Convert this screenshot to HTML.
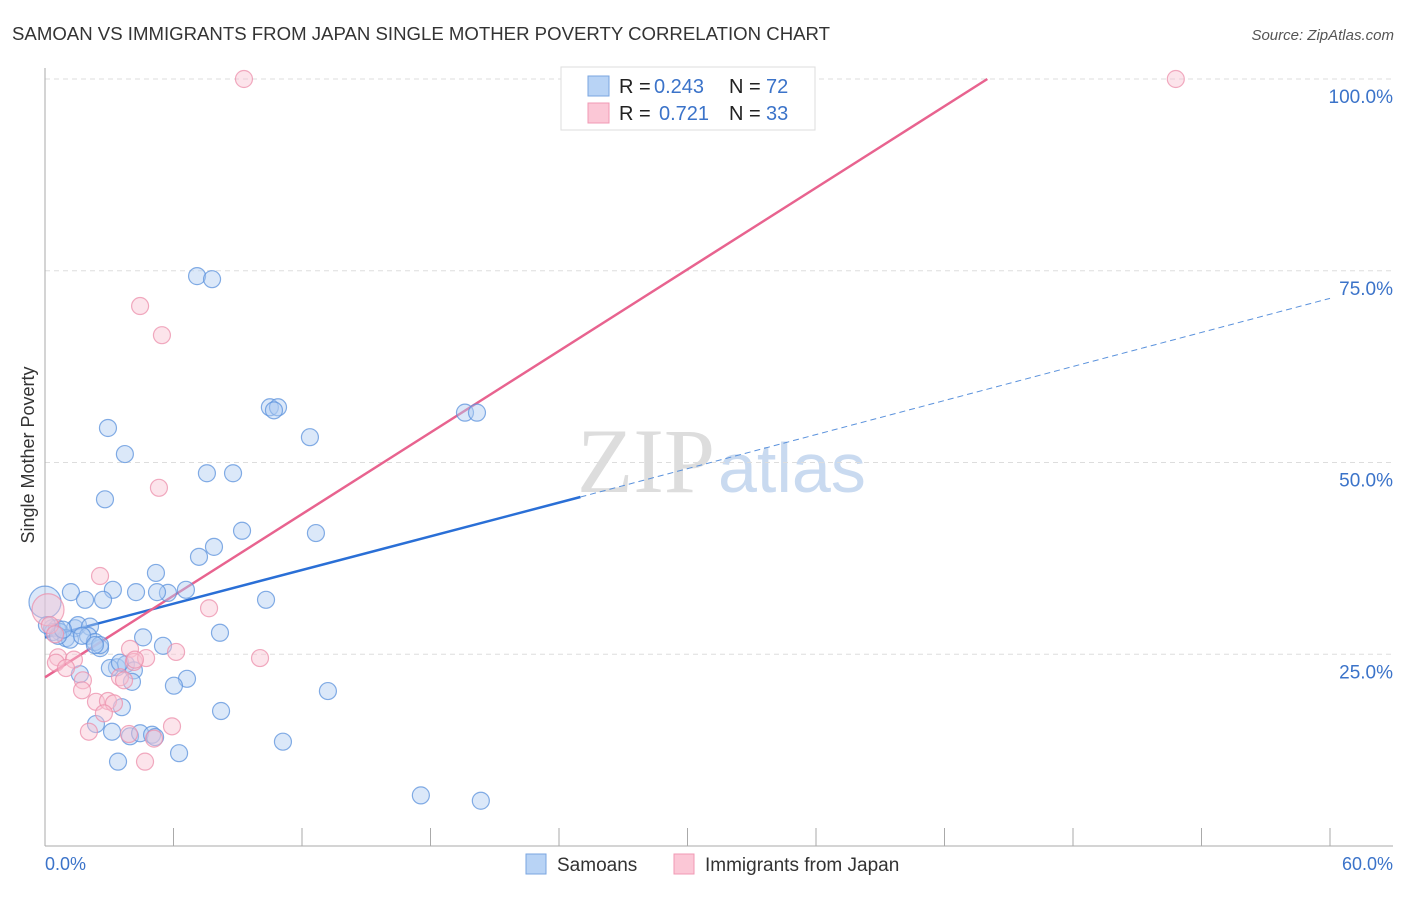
<!DOCTYPE html>
<html><head><meta charset="utf-8"><style>
body{margin:0;background:#fff;font-family:"Liberation Sans",sans-serif;}
svg text{font-family:"Liberation Sans",sans-serif;}
</style></head><body>
<svg id="chart" width="1406" height="892">
<text x="12" y="40" font-size="18" fill="#333" textLength="818" lengthAdjust="spacingAndGlyphs">SAMOAN VS IMMIGRANTS FROM JAPAN SINGLE MOTHER POVERTY CORRELATION CHART</text>
<text x="1394" y="40" font-size="15" fill="#555" font-style="italic" text-anchor="end">Source: ZipAtlas.com</text>
<text x="715" y="492" font-size="92" fill="#ddd" text-anchor="end" style="font-family:'Liberation Serif',serif">ZIP</text>
<text x="718" y="492" font-size="70" fill="#c9daf0">atlas</text>
<g id="grid"></g><g id="axes"></g><g id="lines"></g><g id="pts"></g>
<text transform="translate(34,455) rotate(-90)" font-size="18" fill="#333" text-anchor="middle">Single Mother Poverty</text>
<text x="45" y="870" font-size="18" fill="#3b73c9">0.0%</text>
<text x="1393" y="870" font-size="18" fill="#3b73c9" text-anchor="end">60.0%</text>
<g>
<rect x="561" y="67" width="254" height="63" fill="#fff" stroke="#ddd"/>
<rect x="588" y="76" width="21" height="20" fill="#b8d3f5" stroke="#7aa6e0"/>
<rect x="588" y="103" width="21" height="20" fill="#fbc7d6" stroke="#f09ab4"/>
<text x="619" y="93" font-size="20" fill="#222">R =</text>
<text x="654" y="93" font-size="20" fill="#3b73c9">0.243</text>
<text x="729" y="93" font-size="20" fill="#222">N =</text>
<text x="766" y="93" font-size="20" fill="#3b73c9">72</text>
<text x="619" y="120" font-size="20" fill="#222">R =</text>
<text x="659" y="120" font-size="20" fill="#3b73c9">0.721</text>
<text x="729" y="120" font-size="20" fill="#222">N =</text>
<text x="766" y="120" font-size="20" fill="#3b73c9">33</text>
</g>
<g>
<rect x="526" y="854" width="20" height="20" fill="#b8d3f5" stroke="#7aa6e0"/>
<text x="557" y="871" font-size="19" fill="#333">Samoans</text>
<rect x="674" y="854" width="20" height="20" fill="#fbc7d6" stroke="#f09ab4"/>
<text x="705" y="871" font-size="19" fill="#333">Immigrants from Japan</text>
</g>
</svg>
<script>
const yTicks=[25,50,75,100];
const yTickLabels=["25.0%","50.0%","75.0%","100.0%"];
const xTicks=[0,6,12,18,24,30,36,42,48,54,60];
const blueX=[7.10,7.80,2.94,3.73,10.50,10.88,10.69,12.37,19.61,20.17,7.56,8.78,2.80,9.20,12.65,7.89,7.19,5.18,1.21,3.17,4.25,5.74,6.58,1.87,2.71,5.23,10.32,8.17,4.58,5.51,2.57,0.33,0.56,0.70,1.40,1.54,2.10,2.01,0.98,2.33,1.17,1.73,2.57,2.33,3.36,3.78,4.15,4.06,6.63,6.02,1.63,13.21,8.22,3.59,2.38,3.13,3.97,4.44,5.00,5.14,11.11,6.26,3.41,17.55,20.35,0,0.37,0.61,0.09,0.84,3.03,3.50];
const blueY=[74.3,73.9,54.5,51.1,57.2,57.2,56.8,53.3,56.5,56.5,48.6,48.6,45.2,41.1,40.8,39.0,37.7,35.6,33.1,33.4,33.1,33.0,33.4,32.1,32.1,33.1,32.1,27.8,27.2,26.1,25.8,28.4,28.4,27.9,28.4,28.8,28.6,27.4,27.1,26.6,26.9,27.4,26.2,26.2,23.3,23.7,22.9,21.4,21.8,20.9,22.4,20.2,17.6,18.1,15.9,14.9,14.3,14.7,14.5,14.2,13.6,12.1,11.0,6.6,5.9,31.8,27.9,27.4,28.8,28.2,23.2,23.9];
const blueBig=[65];
const pinkX=[9.29,52.8,4.44,5.46,5.32,2.57,7.66,0.14,3.97,6.12,10.04,0.61,1.35,0.51,0.98,3.50,3.69,1.77,1.73,2.38,2.94,3.22,2.75,5.93,2.05,3.92,5.09,4.67,4.15,4.72,0.23,0.47,4.20];
const pinkY=[100,100,70.4,66.6,46.7,35.2,31.0,30.8,25.7,25.3,24.5,24.6,24.3,23.9,23.2,22.0,21.6,21.6,20.3,18.8,18.9,18.6,17.3,15.6,14.9,14.6,14.0,11.0,24.0,24.5,28.8,27.6,24.3];
const pinkBig=[7];
const blueTrend=[0,27.2,25,45.5,60,71.4];
const pinkTrend=[0,22.0,44.0,100];
const X0=45,X1=1330,Y0=846,Y100=79;
const sx=v=>X0+(X1-X0)*v/60, sy=v=>Y0-(Y0-Y100)*v/100;
const NS="http://www.w3.org/2000/svg";
function mk(tag,parent,attrs){const e=document.createElementNS(NS,tag);for(const k in attrs)e.setAttribute(k,attrs[k]);document.getElementById(parent).appendChild(e);return e;}
yTicks.forEach((t,i)=>{
 let l=mk('line','grid',{x1:X0,x2:1393,y1:sy(t),y2:sy(t),stroke:'#ddd','stroke-dasharray':'5,4'});
 
 
 let tx=mk('text','grid',{x:1393,y:sy(t)+24,'font-size':19,fill:'#3b73c9','text-anchor':'end'});
 tx.textContent=yTickLabels[i];
 
 
});
let ax=mk('line','axes',{x1:X0,x2:X0,y1:68,y2:Y0,stroke:'#aaa'});


let bx=mk('line','axes',{x1:X0,x2:1393,y1:Y0,y2:Y0,stroke:'#aaa'});


xTicks.forEach(t=>{
 let l=mk('line','axes',{x1:sx(t),x2:sx(t),y1:828,y2:Y0,stroke:'#aaa'});
 
 
});
function dot(x,y,big,fill,stroke,name){
 let c=mk('circle','pts',{cx:sx(x),cy:sy(y),r:big?16:8.5,fill:fill,'fill-opacity':0.45,stroke:stroke,'stroke-width':1.2,'stroke-opacity':0.75});
 
 
}
blueX.forEach((x,i)=>dot(x,blueY[i],blueBig.includes(i),'#b0cdf2','#5b92dc','samoan-point'));
pinkX.forEach((x,i)=>dot(x,pinkY[i],pinkBig.includes(i),'#f9c4d3','#ec8fab','japan-point'));
let b1=mk('line','lines',{x1:sx(blueTrend[0]),y1:sy(blueTrend[1]),x2:sx(blueTrend[2]),y2:sy(blueTrend[3]),stroke:'#2a6fd6','stroke-width':2.5});


let b2=mk('line','lines',{x1:sx(blueTrend[2]),y1:sy(blueTrend[3]),x2:sx(blueTrend[4]),y2:sy(blueTrend[5]),stroke:'#5b92dc','stroke-width':1,'stroke-dasharray':'6,4'});


let p1=mk('line','lines',{x1:sx(pinkTrend[0]),y1:sy(pinkTrend[1]),x2:sx(pinkTrend[2]),y2:sy(pinkTrend[3]),stroke:'#e8638f','stroke-width':2.5});


</script>
</body></html>
